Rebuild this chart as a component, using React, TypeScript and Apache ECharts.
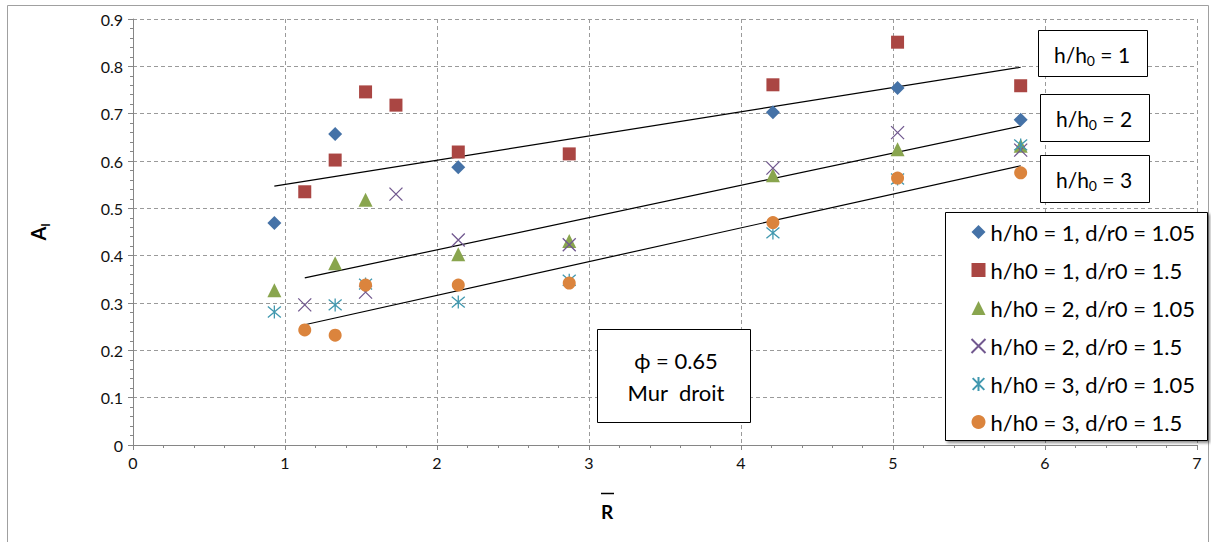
import React, { useEffect, useRef } from "react";
import * as echarts from "echarts";

const FONT = "Lato, 'Open Sans', sans-serif";

const seriesNames = [
  "h/h0 = 1, d/r0 = 1.05",
  "h/h0 = 1, d/r0 = 1.5",
  "h/h0 = 2, d/r0 = 1.05",
  "h/h0 = 2, d/r0 = 1.5",
  "h/h0 = 3, d/r0 = 1.05",
  "h/h0 = 3, d/r0 = 1.5",
];

const s1X = [0.93, 1.33, 2.14, 4.21, 5.03, 5.84];
const s1Y = [0.469, 0.657, 0.587, 0.703, 0.754, 0.687];
const s2X = [1.13, 1.33, 1.53, 1.73, 2.14, 2.87, 4.21, 5.03, 5.84];
const s2Y = [0.535, 0.602, 0.746, 0.718, 0.619, 0.615, 0.761, 0.851, 0.759];
const s3X = [0.93, 1.33, 1.53, 2.14, 2.87, 4.21, 5.03, 5.84];
const s3Y = [0.327, 0.384, 0.518, 0.403, 0.431, 0.57, 0.625, 0.632];
const s4X = [1.13, 1.53, 1.73, 2.14, 2.87, 4.21, 5.03, 5.84];
const s4Y = [0.296, 0.323, 0.53, 0.433, 0.423, 0.585, 0.66, 0.623];
const s5X = [0.93, 1.33, 1.53, 2.14, 2.87, 4.21, 5.03, 5.84];
const s5Y = [0.281, 0.296, 0.34, 0.302, 0.348, 0.448, 0.562, 0.634];
const s6X = [1.13, 1.33, 1.53, 2.14, 2.87, 4.21, 5.03, 5.84];
const s6Y = [0.243, 0.232, 0.338, 0.338, 0.342, 0.47, 0.564, 0.575];

const t1X = [0.93, 5.84];
const t1Y = [0.547, 0.798];
const t2X = [1.13, 5.84];
const t2Y = [0.353, 0.674];
const t3X = [1.13, 5.84];
const t3Y = [0.254, 0.59];

const colors = ["#4572A7", "#AA4643", "#89A54E", "#71588F", "#4198AF", "#DB843D"];

const zip = (xs: number[], ys: number[]) => xs.map((x, i) => [x, ys[i]]);

const X_PATH = "path://M0,0L10,10M10,0L0,10";
const AST_PATH = "path://M0,0L10,10M10,0L0,10M5,-1L5,11";

const subText = (n: string) => `{n|h/h}{s|0}{n| = ${n}}`;
const richSub = {
  n: { fontSize: 21, fontFamily: FONT, color: "#000", lineHeight: 26, verticalAlign: "middle" },
  s: { fontSize: 14, fontFamily: FONT, color: "#000", lineHeight: 14, verticalAlign: "bottom" },
};

export default function App() {
  const ref = useRef<HTMLDivElement>(null);
  useEffect(() => {
    document.body.style.margin = "0";
    const chart = echarts.init(ref.current!, null, { renderer: "svg" });
    const scatterBase = { type: "scatter", z: 5 };
    const option: any = {
      animation: false,
      backgroundColor: "#fff",
      textStyle: { fontFamily: FONT },
      grid: { left: 133, right: 14, top: 19, bottom: 97 },
      xAxis: {
        type: "value",
        min: 0,
        max: 7,
        interval: 1,
        axisLine: { lineStyle: { color: "#868686", width: 1 } },
        axisTick: { show: true, length: 5, lineStyle: { color: "#868686" } },
        minorTick: { show: true, splitNumber: 5, length: 3, lineStyle: { color: "#868686" } },
        axisLabel: { fontSize: 16, color: "#111", margin: 9, fontFamily: FONT },
        splitLine: { show: true, lineStyle: { color: "#9a9a9a", type: [4, 3], width: 1 } },
      },
      yAxis: {
        type: "value",
        min: 0,
        max: 0.9,
        interval: 0.1,
        name: "{a|A}{b|l}",
        nameLocation: "middle",
        nameRotate: 90,
        nameGap: 82,
        nameTextStyle: {
          rich: {
            a: { fontSize: 20, fontWeight: "bold", fontFamily: FONT, color: "#000", lineHeight: 26, verticalAlign: "middle" },
            b: { fontSize: 12, fontWeight: "bold", fontFamily: FONT, color: "#000", lineHeight: 12, verticalAlign: "bottom" },
          },
        },
        axisLine: { show: true, lineStyle: { color: "#868686", width: 1 } },
        axisTick: { show: true, length: 5, lineStyle: { color: "#868686" } },
        minorTick: { show: true, splitNumber: 5, length: 3, lineStyle: { color: "#868686" } },
        axisLabel: { fontSize: 16, color: "#111", margin: 10, fontFamily: FONT },
        splitLine: { show: true, lineStyle: { color: "#9a9a9a", type: [4, 3], width: 1 } },
      },
      legend: {
        orient: "vertical",
        left: 945,
        top: 212,
        padding: [8, 10, 6, 24],
        itemWidth: 14,
        itemHeight: 14,
        itemGap: 14,
        textStyle: { fontSize: 22, lineHeight: 24, color: "#000", fontFamily: FONT },
        data: seriesNames,
        z: 20,
      },
      series: [
        { ...scatterBase, name: seriesNames[0], symbol: "diamond", symbolSize: 14, itemStyle: { color: colors[0], opacity: 1 }, data: zip(s1X, s1Y) },
        { ...scatterBase, name: seriesNames[1], symbol: "rect", symbolSize: 13, itemStyle: { color: colors[1], opacity: 1 }, data: zip(s2X, s2Y) },
        { ...scatterBase, name: seriesNames[2], symbol: "triangle", symbolSize: 14, itemStyle: { color: colors[2], opacity: 1 }, data: zip(s3X, s3Y) },
        { ...scatterBase, name: seriesNames[3], symbol: X_PATH, symbolSize: 13, itemStyle: { color: "none", borderColor: colors[3], borderWidth: 1.3, opacity: 1 }, data: zip(s4X, s4Y) },
        { ...scatterBase, name: seriesNames[4], symbol: AST_PATH, symbolSize: 13, itemStyle: { color: "none", borderColor: colors[4], borderWidth: 1.3, opacity: 1 }, data: zip(s5X, s5Y) },
        { ...scatterBase, name: seriesNames[5], symbol: "circle", symbolSize: 13, itemStyle: { color: colors[5], opacity: 1 }, data: zip(s6X, s6Y) },
        { type: "line", name: "trend1", data: zip(t1X, t1Y), symbol: "none", z: 3, lineStyle: { color: "#000", width: 1.2 } },
        { type: "line", name: "trend2", data: zip(t2X, t2Y), symbol: "none", z: 3, lineStyle: { color: "#000", width: 1.2 } },
        { type: "line", name: "trend3", data: zip(t3X, t3Y), symbol: "none", z: 3, lineStyle: { color: "#000", width: 1.2 } },
      ],
      graphic: [
        { type: "rect", z: 1, silent: true, shape: { x: 7.5, y: 5.5, width: 1201, height: 540 }, style: { fill: "none", stroke: "#a0a0a0", lineWidth: 1 } },
        { type: "rect", z: 15, shape: { x: 945.5, y: 212.5, width: 262, height: 228 }, style: { fill: "#fff", stroke: "#000", lineWidth: 1, shadowBlur: 3, shadowOffsetX: 2, shadowOffsetY: 2, shadowColor: "rgba(0,0,0,0.45)" } },
        { type: "rect", z: 15, shape: { x: 1038.5, y: 30.5, width: 109, height: 46 }, style: { fill: "#fff", stroke: "#000", lineWidth: 1 } },
        { type: "text", z: 16, x: 1092, y: 54, style: { text: subText("1"), align: "center", verticalAlign: "middle", rich: richSub } },
        { type: "rect", z: 15, shape: { x: 1040.5, y: 94.5, width: 109, height: 47 }, style: { fill: "#fff", stroke: "#000", lineWidth: 1 } },
        { type: "text", z: 16, x: 1094, y: 118, style: { text: subText("2"), align: "center", verticalAlign: "middle", rich: richSub } },
        { type: "rect", z: 15, shape: { x: 1040.5, y: 155.5, width: 109, height: 47 }, style: { fill: "#fff", stroke: "#000", lineWidth: 1 } },
        { type: "text", z: 16, x: 1094, y: 179, style: { text: subText("3"), align: "center", verticalAlign: "middle", rich: richSub } },
        { type: "rect", z: 15, shape: { x: 597.5, y: 329.5, width: 153, height: 93 }, style: { fill: "#fff", stroke: "#000", lineWidth: 1 } },
        { type: "text", z: 16, x: 676, y: 376, style: { text: "ϕ = 0.65\nMur  droit", align: "center", verticalAlign: "middle", fontSize: 22, lineHeight: 32, fontFamily: FONT, fill: "#000" } },
        { type: "text", z: 16, x: 607, y: 511, style: { text: "R", align: "center", verticalAlign: "middle", fontSize: 19, fontWeight: "bold", fontFamily: FONT, fill: "#000" } },
        { type: "line", z: 16, shape: { x1: 601, y1: 493.5, x2: 614, y2: 493.5 }, style: { stroke: "#000", lineWidth: 1.5 } },
      ],
    };
    chart.setOption(option);
    return () => chart.dispose();
  }, []);
  return <div ref={ref} style={{ width: 1211, height: 542 }} />;
}
